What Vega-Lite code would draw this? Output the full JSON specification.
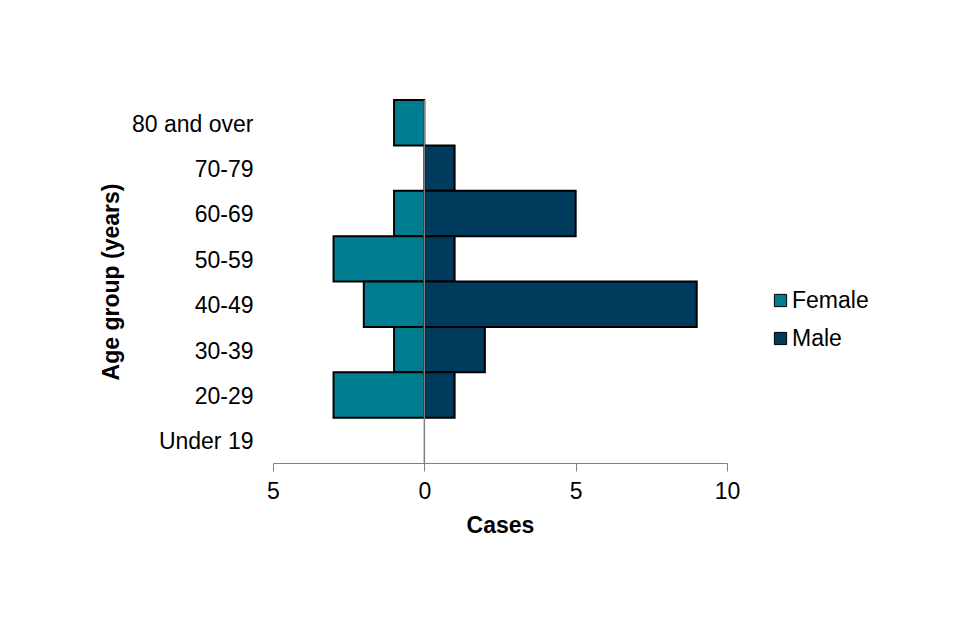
{
  "$schema": "https://vega.github.io/schema/vega-lite/v6.json",
  "autosize": "none",
  "width": 454,
  "height": 363,
  "padding": {"left": 273, "top": 100, "right": 233, "bottom": 177},
  "background": "white",
  "config": {
    "font": "Liberation Sans",
    "view": {"stroke": null}
  },
  "layer": [
    {
      "data": {
        "values": [
          {"age": "80 and over", "sex": "Female", "cases": -1},
          {"age": "70-79", "sex": "Female", "cases": 0},
          {"age": "60-69", "sex": "Female", "cases": -1},
          {"age": "50-59", "sex": "Female", "cases": -3},
          {"age": "40-49", "sex": "Female", "cases": -2},
          {"age": "30-39", "sex": "Female", "cases": -1},
          {"age": "20-29", "sex": "Female", "cases": -3},
          {"age": "Under 19", "sex": "Female", "cases": 0},
          {"age": "80 and over", "sex": "Male", "cases": 0},
          {"age": "70-79", "sex": "Male", "cases": 1},
          {"age": "60-69", "sex": "Male", "cases": 5},
          {"age": "50-59", "sex": "Male", "cases": 1},
          {"age": "40-49", "sex": "Male", "cases": 9},
          {"age": "30-39", "sex": "Male", "cases": 2},
          {"age": "20-29", "sex": "Male", "cases": 1},
          {"age": "Under 19", "sex": "Male", "cases": 0}
        ]
      },
      "transform": [{"filter": "datum.cases != 0"}],
      "mark": {"type": "bar", "stroke": "black", "strokeWidth": 2},
      "encoding": {
        "y": {
          "field": "age",
          "type": "nominal",
          "sort": ["80 and over", "70-79", "60-69", "50-59", "40-49", "30-39", "20-29", "Under 19"],
          "scale": {"domain": ["80 and over", "70-79", "60-69", "50-59", "40-49", "30-39", "20-29", "Under 19"], "paddingInner": 0, "paddingOuter": 0},
          "axis": {
            "title": "Age group (years)",
            "titleFontSize": 23,
            "titleFontWeight": "bold",
            "titleColor": "black",
            "titlePadding": 8,
            "labelFontSize": 23,
            "labelColor": "black",
            "labelPadding": 20,
            "labelOffset": 2,
            "ticks": false,
            "domain": false
          }
        },
        "x": {
          "field": "cases",
          "type": "quantitative",
          "scale": {"domain": [-5, 10], "nice": false, "zero": false},
          "axis": {
            "title": "Cases",
            "titleFontSize": 23,
            "titleFontWeight": "bold",
            "titleColor": "black",
            "titlePadding": 11,
            "values": [-5, 0, 5, 10],
            "labelExpr": "abs(datum.value)",
            "labelFontSize": 23,
            "labelColor": "black",
            "labelPadding": 9,
            "tickSize": 8,
            "tickColor": "#808080",
            "domainColor": "#808080",
            "domainWidth": 1,
            "grid": false,
            "labelFlush": false
          }
        },
        "color": {
          "field": "sex",
          "type": "nominal",
          "scale": {"domain": ["Female", "Male"], "range": ["#007C91", "#003A5C"]},
          "legend": {
            "title": null,
            "orient": "none",
            "legendX": 496,
            "legendY": 189,
            "symbolType": "square",
            "symbolSize": 150,
            "symbolStrokeColor": "black",
            "symbolStrokeWidth": 1,
            "labelFontSize": 23,
            "labelColor": "black",
            "labelOffset": 0,
            "rowPadding": 14
          }
        }
      }
    },
    {
      "data": {"values": [{"zero": 0}]},
      "mark": {"type": "rule", "color": "#808080", "strokeWidth": 1.5},
      "encoding": {
        "x": {"field": "zero", "type": "quantitative"}
      }
    }
  ]
}
